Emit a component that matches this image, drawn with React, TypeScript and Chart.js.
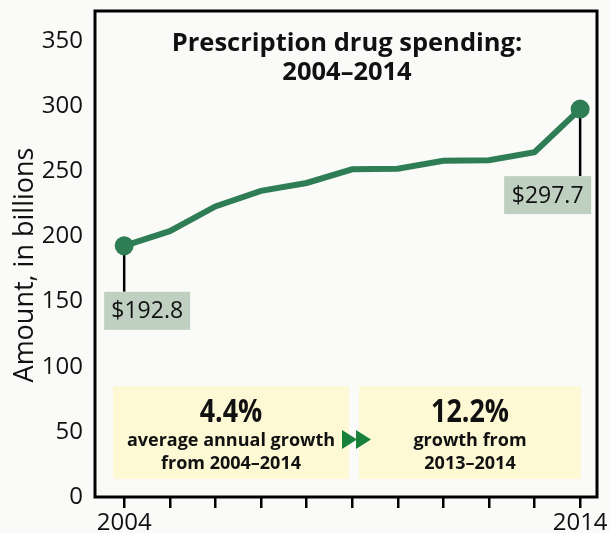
import React, { useEffect, useRef } from "react";
import { Chart, registerables } from "chart.js";

Chart.register(...registerables);

const years = [2004, 2005, 2006, 2007, 2008, 2009, 2010, 2011, 2012, 2013, 2014];
const spending = [192.8, 204, 223, 235, 241, 251.5, 252, 258, 258.5, 264.6, 297.7];
const yTickValues = [0, 50, 100, 150, 200, 250, 300, 350];
const labeledYears = [2004, 2014];
const chartTitle = ["Prescription drug spending:", "2004–2014"];
const yTitle = "Amount, in billions";
const startLabel = "$192.8";
const endLabel = "$297.7";
const leftStat = ["4.4%", "average annual growth", "from 2004–2014"];
const rightStat = ["12.2%", "growth from", "2013–2014"];

const GREEN = "#2f7d55";
const LABEL_BG = "#bfcfc0";
const YELLOW = "#fdf9d4";
const ARROW = "#17813b";
const FONT = "'Open Sans', 'Noto Sans', sans-serif";

export default function App() {
  const ref = useRef<HTMLCanvasElement | null>(null);

  useEffect(() => {
    document.body.style.margin = "0";
    document.body.style.background = "#fafaf8";
    const canvas = ref.current!;
    const decor = {
      id: "decor",
      beforeDatasetsDraw(chart: any) {
        const ctx = chart.ctx;
        const xs = chart.scales.x;
        const ys = chart.scales.y;
        const ca = chart.chartArea;
        ctx.save();
        // yellow stat boxes
        ctx.fillStyle = YELLOW;
        ctx.fillRect(ca.left + 18, 386, 236, 93);
        ctx.fillRect(ca.left + 264, 386, 222, 93);
        // arrows
        ctx.fillStyle = ARROW;
        const ax = ca.left + 247;
        for (let i = 0; i < 2; i++) {
          const x0 = ax + i * 14;
          ctx.beginPath();
          ctx.moveTo(x0, 430);
          ctx.lineTo(x0 + 15, 439.5);
          ctx.lineTo(x0, 449);
          ctx.closePath();
          ctx.fill();
        }
        // stat texts
        const drawStat = (lines: string[], cx: number) => {
          ctx.fillStyle = "#111";
          ctx.textAlign = "center";
          ctx.textBaseline = "middle";
          ctx.save();
          ctx.translate(cx, 413);
          ctx.scale(0.84, 1);
          ctx.font = `bold 32px ${FONT}`;
          ctx.fillText(lines[0], 0, 0);
          ctx.restore();
          ctx.font = `bold 18px ${FONT}`;
          ctx.fillText(lines[1], cx, 441);
          ctx.fillText(lines[2], cx, 464);
        };
        drawStat(leftStat, ca.left + 136);
        drawStat(rightStat, ca.left + 375);
        // connector lines
        const n = spending.length - 1;
        const x0 = xs.getPixelForValue(years[0]);
        const y0 = ys.getPixelForValue(spending[0]);
        const x1 = xs.getPixelForValue(years[n]);
        const y1 = ys.getPixelForValue(spending[n]);
        ctx.strokeStyle = "#000";
        ctx.lineWidth = 2.5;
        ctx.beginPath();
        ctx.moveTo(x0, y0);
        ctx.lineTo(x0, y0 + 46);
        ctx.moveTo(x1, y1);
        ctx.lineTo(x1, y1 + 67);
        ctx.stroke();
        ctx.restore();
      },
      afterDraw(chart: any) {
        const ctx = chart.ctx;
        const xs = chart.scales.x;
        const ys = chart.scales.y;
        const ca = chart.chartArea;
        ctx.save();
        // frame
        ctx.strokeStyle = "#000";
        ctx.lineWidth = 3;
        ctx.strokeRect(ca.left, ca.top, ca.right - ca.left, ca.bottom - ca.top);
        // title
        ctx.fillStyle = "#111";
        ctx.textAlign = "center";
        ctx.textBaseline = "middle";
        ctx.font = `bold 25.5px ${FONT}`;
        ctx.fillText(chartTitle[0], 347, 44);
        ctx.fillText(chartTitle[1], 347, 73);
        // y title
        ctx.save();
        ctx.translate(33, 265);
        ctx.rotate(-Math.PI / 2);
        ctx.textBaseline = "alphabetic";
        ctx.font = `27px ${FONT}`;
        ctx.fillText(yTitle, 0, 0);
        ctx.restore();
        // value labels
        const n = spending.length - 1;
        const x0 = xs.getPixelForValue(years[0]);
        const y0 = ys.getPixelForValue(spending[0]);
        const x1 = xs.getPixelForValue(years[n]);
        const y1 = ys.getPixelForValue(spending[n]);
        ctx.font = `23px ${FONT}`;
        ctx.fillStyle = LABEL_BG;
        ctx.fillRect(x0 - 20, y0 + 46, 86, 38);
        ctx.fillRect(x1 - 76, y1 + 67, 87, 38);
        ctx.fillStyle = "#111";
        ctx.fillText(startLabel, x0 + 23, y0 + 66);
        ctx.fillText(endLabel, x1 - 32.5, y1 + 87);
        ctx.restore();
      },
    };

    const chart = new Chart(canvas, {
      type: "line",
      data: {
        datasets: [
          {
            data: years.map((yr, i) => ({ x: yr, y: spending[i] })),
            borderColor: GREEN,
            backgroundColor: GREEN,
            borderWidth: 6,
            tension: 0,
            pointRadius: years.map((_, i) => (i === 0 || i === years.length - 1 ? 9.5 : 0)),
            pointBorderWidth: 0,
            pointBackgroundColor: GREEN,
          },
        ],
      },
      options: {
        responsive: false,
        animation: false,
        events: [],
        layout: { padding: { left: 0, right: 13, top: 11, bottom: 0 } },
        plugins: { legend: { display: false }, tooltip: { enabled: false }, title: { display: false } },
        scales: {
          x: {
            type: "linear",
            min: 2003.36,
            max: 2014.37,
            afterBuildTicks: (scale: any) => {
              scale.ticks = years.map((v) => ({ value: v }));
            },
            afterFit: (scale: any) => {
              scale.height = 36;
              scale.paddingLeft = 0;
              scale.paddingRight = 0;
            },
            grid: {
              display: true,
              drawOnChartArea: false,
              drawTicks: true,
              tickLength: 11,
              color: "#000",
              lineWidth: 2.5,
            },
            border: { display: false },
            ticks: {
              autoSkip: false,
              maxRotation: 0,
              padding: 1,
              color: "#111",
              font: { family: FONT, size: 24 },
              callback: (v: any) => (labeledYears.includes(Number(v)) ? String(v) : ""),
            },
          },
          y: {
            type: "linear",
            min: 0,
            max: 373,
            afterBuildTicks: (scale: any) => {
              scale.ticks = yTickValues.map((v) => ({ value: v }));
            },
            afterFit: (scale: any) => {
              scale.width = 95;
              scale.paddingTop = 0;
              scale.paddingBottom = 0;
            },
            grid: { display: false, drawTicks: false },
            border: { display: false },
            ticks: {
              padding: 12,
              color: "#111",
              font: { family: FONT, size: 24 },
            },
          },
        },
      },
      plugins: [decor],
    });
    return () => chart.destroy();
  }, []);

  return (
    <div style={{ width: 610, height: 533 }}>
      <canvas ref={ref} width={610} height={533} style={{ display: "block", width: 610, height: 533 }} />
    </div>
  );
}
